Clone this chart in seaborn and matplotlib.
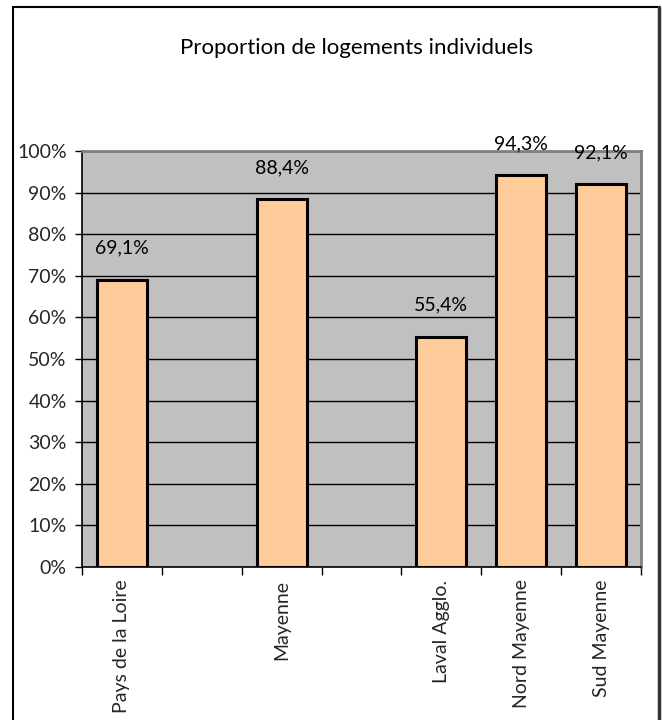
import numpy as np
import pandas as pd
import matplotlib
matplotlib.use("Agg")
import matplotlib.pyplot as plt
from matplotlib.lines import Line2D
from matplotlib.ticker import FixedLocator, PercentFormatter
import seaborn as sns

# Category slots (blank slots keep the gaps between groups)
slots = ["Pays de la Loire", " ", "Mayenne", "  ", "Laval Agglo.", "Nord Mayenne", "Sud Mayenne"]
values = [69.1, np.nan, 88.4, np.nan, 55.4, 94.3, 92.1]
title = "Proportion de logements individuels"
yticks = [0, 10, 20, 30, 40, 50, 60, 70, 80, 90, 100]

df = pd.DataFrame({"zone": slots, "part": values})

sns.set_theme(style="white")
plt.rcParams["font.family"] = ["Lato", "DejaVu Sans"]

fig = plt.figure(figsize=(6.62, 7.2), dpi=100)
ax = fig.add_axes([82 / 662, 1 - 567 / 720, (641 - 82) / 662, (567 - 151) / 720])
ax.set_facecolor("#C0C0C0")

sns.barplot(data=df.dropna(), x="zone", y="part", order=slots, ax=ax,
            color="#FFCC99", saturation=1, width=0.625,
            edgecolor="black", linewidth=2.2, zorder=3)

ax.set_ylim(0, 100)
ax.set_xlim(-0.5, len(slots) - 0.5)
ax.yaxis.set_major_locator(FixedLocator(yticks))
ax.yaxis.set_major_formatter(PercentFormatter(decimals=0))
ax.grid(axis="y", color="black", linewidth=1, zorder=1)
ax.set_axisbelow(True)

# category labels at slot centres, tick marks on slot boundaries
ax.set_xticks(range(len(slots)))
ax.set_xticklabels([s.strip() for s in slots], rotation=90, va="top", ha="center")
ax.tick_params(axis="x", which="major", length=0, pad=9, labelsize=14)
ax.set_xticks(np.arange(-0.5, len(slots)), minor=True)
ax.tick_params(axis="x", which="minor", length=6, width=1, color="black", direction="out", bottom=True)
ax.tick_params(axis="y", length=5, width=1, color="black", direction="out", left=True, pad=6, labelsize=14)
ax.set_xlabel("")
ax.set_ylabel("")

for side in ("left", "bottom"):
    ax.spines[side].set_color("black")
    ax.spines[side].set_linewidth(1.2)
for side in ("top", "right"):
    ax.spines[side].set_color("#808080")
    ax.spines[side].set_linewidth(2)

# value labels above bars
for i, v in enumerate(values):
    if np.isnan(v):
        continue
    ax.annotate(f"{v:.1f}".replace(".", ",") + "%", (i, v), xytext=(0, 22.5),
                textcoords="offset points", ha="center", va="center",
                fontsize=14, color="black", annotation_clip=False, zorder=5)

fig.text(357 / 662, 1 - 48 / 720, title, ha="center", va="center", fontsize=16, color="black")

# chart frame
fig.add_artist(Line2D([13 / 662, 659 / 662], [1 - 7 / 720, 1 - 7 / 720], transform=fig.transFigure, color="black", linewidth=1.5))
fig.add_artist(Line2D([13 / 662, 13 / 662], [1 - 7 / 720, 0], transform=fig.transFigure, color="black", linewidth=1.5))
fig.add_artist(Line2D([659 / 662, 659 / 662], [1 - 7 / 720, 0], transform=fig.transFigure, color="#333333", linewidth=2.5))

fig.savefig("out.png", dpi=100, facecolor="white")
